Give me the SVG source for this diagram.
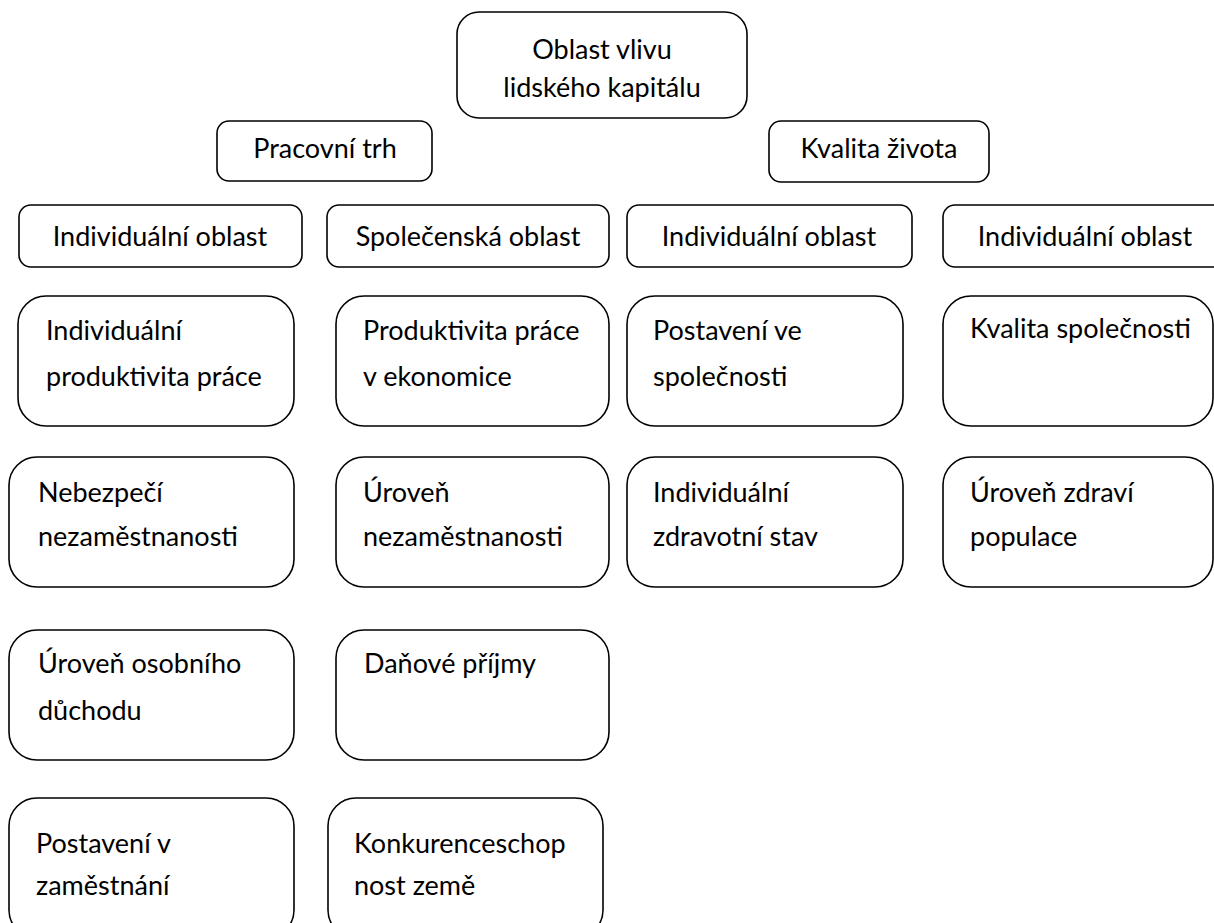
<svg xmlns="http://www.w3.org/2000/svg" width="1214" height="923" viewBox="0 0 1214 923">
<style>
.b{fill:#fff;stroke:#000;stroke-width:1.6}
text{font-family:Lato,"Liberation Sans",sans-serif;font-size:27px;fill:#000}
.c{text-anchor:middle}
</style>
<rect width="1214" height="923" fill="#fff"/>
<g id="connectors"></g>
<g id="n-root"><rect class="b" x="457" y="12" width="290" height="106" rx="22"/><text class="c" x="602" y="59">Oblast vlivu</text><text class="c" x="602" y="97">lidského kapitálu</text></g>
<g id="n-trh"><rect class="b" x="217" y="121" width="215" height="60" rx="12"/><text class="c" x="325" y="158">Pracovní trh</text></g>
<g id="n-kvalita"><rect class="b" x="769" y="121" width="220" height="61" rx="12"/><text class="c" x="879" y="158">Kvalita života</text></g>
<g id="n-r3a"><rect class="b" x="19" y="205" width="283" height="62" rx="12"/><text class="c" x="160" y="246">Individuální oblast</text></g>
<g id="n-r3b"><rect class="b" x="327" y="205" width="282" height="62" rx="12"/><text class="c" x="468" y="246">Společenská oblast</text></g>
<g id="n-r3c"><rect class="b" x="627" y="205" width="285" height="62" rx="12"/><text class="c" x="769" y="246">Individuální oblast</text></g>
<g id="n-r3d"><rect class="b" x="943" y="205" width="290" height="62" rx="12"/><text class="c" x="1085" y="246">Individuální oblast</text></g>
<g id="n-r4a"><rect class="b" x="18" y="296" width="276" height="130" rx="28"/><text x="46" y="340">Individuální</text><text x="46" y="386">produktivita práce</text></g>
<g id="n-r4b"><rect class="b" x="336" y="296" width="273" height="130" rx="28"/><text x="363" y="340">Produktivita práce</text><text x="363" y="386">v ekonomice</text></g>
<g id="n-r4c"><rect class="b" x="627" y="296" width="276" height="130" rx="28"/><text x="653" y="340">Postavení ve</text><text x="653" y="386">společnosti</text></g>
<g id="n-r4d"><rect class="b" x="943" y="296" width="270" height="130" rx="28"/><text x="970" y="338">Kvalita společnosti</text></g>
<g id="n-r5a"><rect class="b" x="9" y="457" width="285" height="130" rx="28"/><text x="38" y="502">Nebezpečí</text><text x="38" y="546">nezaměstnanosti</text></g>
<g id="n-r5b"><rect class="b" x="336" y="457" width="273" height="130" rx="28"/><text x="363" y="502">Úroveň</text><text x="363" y="546">nezaměstnanosti</text></g>
<g id="n-r5c"><rect class="b" x="627" y="457" width="276" height="130" rx="28"/><text x="653" y="502">Individuální</text><text x="653" y="546">zdravotní stav</text></g>
<g id="n-r5d"><rect class="b" x="943" y="457" width="270" height="130" rx="28"/><text x="970" y="502">Úroveň zdraví</text><text x="970" y="546">populace</text></g>
<g id="n-r6a"><rect class="b" x="9" y="630" width="285" height="130" rx="28"/><text x="38" y="673">Úroveň osobního</text><text x="38" y="720">důchodu</text></g>
<g id="n-r6b"><rect class="b" x="336" y="630" width="273" height="130" rx="28"/><text x="364" y="673">Daňové příjmy</text></g>
<g id="n-r7a"><rect class="b" x="9" y="798" width="285" height="140" rx="28"/><text x="36" y="853">Postavení v</text><text x="36" y="895">zaměstnání</text></g>
<g id="n-r7b"><rect class="b" x="328" y="798" width="275" height="140" rx="28"/><text x="354" y="853">Konkurenceschop</text><text x="354" y="895">nost země</text></g>
</svg>
